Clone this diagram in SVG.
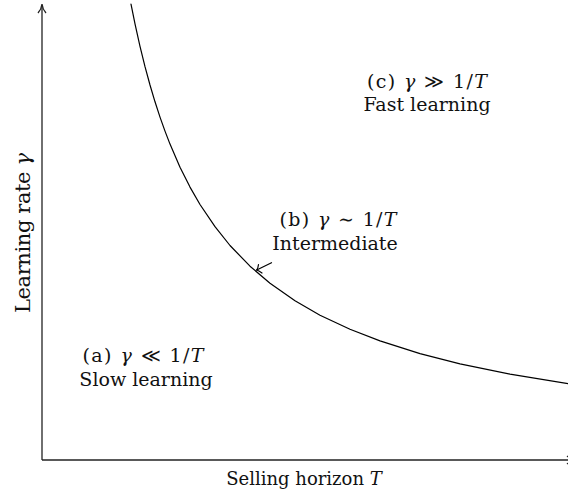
<svg xmlns="http://www.w3.org/2000/svg" width="568" height="493" viewBox="0 0 568 493">
<style>
.ax{fill:none;stroke:#222;stroke-width:1.3}
.ln{fill:none;stroke:#000;stroke-width:1.2;stroke-linecap:round;stroke-linejoin:round}
.t{font-family:"DejaVu Serif","Liberation Serif",serif;font-size:19px;fill:#111;text-anchor:middle}
.i{font-style:italic}
</style>
<rect width="568" height="493" fill="#fff"/>
<g id="connectors">
  <path class="ax" d="M42,460 L42,5"/>
  <path class="ax" d="M38,13 Q41.5,9 42,4 Q42.5,9 46,13"/>
  <path class="ax" d="M42,460 L575,460"/>
  <path class="ax" d="M567,456 Q571,459.5 576,460 Q571,460.5 567,464"/>
  <path class="ln" d="M131,4.1 L135,23.9 L140,46.4 L145,66.7 L150,85 L155,101.8 L160,117.1 L165,131.1 L170,144.1 L180,167.2 L190,187.1 L200,204.5 L215,226.7 L230,245.5 L250,266.2 L270,283.3 L295,300.8 L320,315.2 L350,329.3 L380,340.9 L420,353.6 L460,363.8 L510,374.1 L568,383.6"/>
  <path class="ln" d="M271.5,262.7 L256.7,270"/>
  <path class="ln" d="M258.5,264.5 Q258,268.5 256.7,270 Q258.5,270.5 262,273"/>
</g>
<g id="ylabel"><text class="t" style="font-size:21px" transform="translate(30,233) rotate(-90)" textLength="160" lengthAdjust="spacing">Learning rate <tspan class="i">γ</tspan></text></g>
<g id="xlabel"><text class="t" style="font-size:18px" x="304" y="485">Selling horizon <tspan class="i">T</tspan></text></g>
<g id="region-c"><text class="t" x="427" y="88" textLength="120" lengthAdjust="spacing">(c) <tspan class="i">γ</tspan> ≫ 1/<tspan class="i">T</tspan></text><text class="t" x="427" y="111">Fast learning</text></g>
<g id="region-b"><text class="t" x="338" y="226" textLength="117" lengthAdjust="spacing">(b) <tspan class="i">γ</tspan> ∼ 1/<tspan class="i">T</tspan></text><text class="t" x="335" y="250">Intermediate</text></g>
<g id="region-a"><text class="t" x="143" y="362" textLength="121" lengthAdjust="spacing">(a) <tspan class="i">γ</tspan> ≪ 1/<tspan class="i">T</tspan></text><text class="t" x="146" y="386">Slow learning</text></g>
</svg>
